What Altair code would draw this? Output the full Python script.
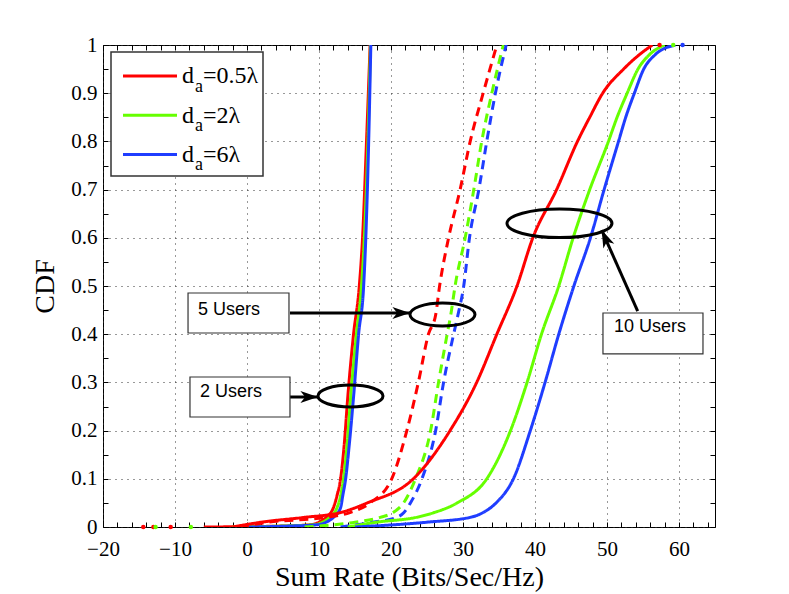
import altair as alt
import pandas as pd

# ---------------- data ----------------
series_names = ["d_a=0.5λ", "d_a=2λ", "d_a=6λ"]
series_colors = ["#ff0000", "#66ff00", "#1f3dff"]

# 2 users (solid)
y_2u = [0, 0.002, 0.005, 0.01, 0.02, 0.04, 0.065, 0.1, 0.17, 0.27, 0.4, 0.5, 0.6, 0.8, 1.0]
x_2u_red = [-6, 5, 9, 10, 11, 12, 12.5, 13, 13.5, 14, 14.8, 15.6, 16.05, 16.6, 17.1]
x_2u_green = [-2, 5, 9.5, 10.5, 11.5, 12.5, 13, 13.4, 13.9, 14.4, 15.2, 15.9, 16.3, 16.8, 17.15]
x_2u_blue = [0, 6, 10, 11, 12, 13, 13.3, 13.7, 14.2, 14.8, 15.5, 16.2, 16.5, 16.9, 17.2]

# 5 users (dashed)
y_5u = [0, 0.01, 0.02, 0.03, 0.05, 0.1, 0.2, 0.3, 0.4, 0.44, 0.5, 0.6, 0.7, 0.8, 0.9, 1.0]
x_5u_red = [-1, 3, 11, 14.3, 17.1, 20.1, 22.2, 23.8, 25.2, 26.2, 26.75, 28.0, 29.6, 31.0, 32.8, 34.7]
x_5u_green = [8, 15, 18.5, 20.3, 21.75, 23.4, 25.5, 26.6, 27.8, 28.3, 28.9, 30.3, 31.5, 32.6, 34.0, 35.6]
x_5u_blue = [13, 17.5, 20.8, 21.8, 22.7, 24.3, 26.2, 27.3, 28.7, 29.3, 30.1, 30.9, 32.2, 33.3, 34.5, 36.0]

# 10 users (solid)
y_10u = [0, 0.01, 0.02, 0.03, 0.05, 0.1, 0.2, 0.3, 0.4, 0.5, 0.6, 0.7, 0.8, 0.85, 0.9, 0.95, 0.98, 1.0]
x_10u_red = [-2, 2, 8, 13, 16.7, 23.1, 28.2, 31.9, 34.7, 37.5, 39.7, 43.0, 45.9, 47.6, 49.4, 52.3, 54.5, 56.3]
x_10u_green = [14, 18, 23.5, 26, 29.2, 33.3, 36.6, 38.9, 40.9, 43.3, 45.3, 47.6, 50.2, 51.4, 52.8, 54.3, 55.9, 58.0]
x_10u_blue = [15, 25, 31, 32.8, 34.6, 37.0, 39.35, 41.4, 43.3, 45.4, 47.7, 49.6, 51.6, 52.6, 53.8, 55.1, 56.7, 59.5]

# sparse tail samples near CDF = 0 / 1
tail_x = [-14.4, -13.0, -10.6, -12.7, -7.8, 57.3, 59.2, 60.5]
tail_y = [0.0, 0.0, 0.0, 0.0, 0.0, 1.0, 1.0, 1.0]
tail_series = ["d_a=0.5λ", "d_a=0.5λ", "d_a=0.5λ", "d_a=2λ", "d_a=2λ",
               "d_a=0.5λ", "d_a=2λ", "d_a=6λ"]

x_major = [-20, -10, 0, 10, 20, 30, 40, 50, 60]
y_major = [0, 0.1, 0.2, 0.3, 0.4, 0.5, 0.6, 0.7, 0.8, 0.9, 1.0]
x_minor = list(range(-20, 65, 2))
y_minor = [round(i * 0.05, 2) for i in range(21)]

# annotations
ann_labels = ["5 Users", "2 Users", "10 Users"]
ann_box_x = [-8.19, -7.92, 49.44]
ann_box_x2 = [5.83, 5.97, 63.33]
ann_box_y = [0.4855, 0.3112, 0.444]
ann_box_y2 = [0.4025, 0.2282, 0.359]
ann_text_x = [-6.8, -6.53, 50.97]
ann_text_y = [0.450, 0.2794, 0.4143]
ell_x = [27.15, 14.375, 43.40]
ell_y = [0.4409, 0.2718, 0.630]
ell_rx = [32.5, 32.5, 52.5]
ell_ry = [11.5, 11.0, 14.3]
arr_x = [5.97, 5.97, 54.26]
arr_y = [0.444, 0.2697, 0.448]
arr_x2 = [22.64, 9.86, 49.26]
arr_y2 = [0.444, 0.2697, 0.616]
arr_angle = [90, 90, 336]

# ---------------- build tables ----------------
rows = []
curves = [
    ("2u", "solid", y_2u, [x_2u_red, x_2u_green, x_2u_blue]),
    ("5u", "dashed", y_5u, [x_5u_red, x_5u_green, x_5u_blue]),
    ("10u", "solid", y_10u, [x_10u_red, x_10u_green, x_10u_blue]),
]
for gname, style, ys, xs_list in curves:
    for sname, xs in zip(series_names, xs_list):
        for i, (xv, yv) in enumerate(zip(xs, ys)):
            rows.append({"x": xv, "y": yv, "series": sname, "curve": gname + sname,
                         "style": style, "idx": i})
df = pd.DataFrame(rows)
tails = pd.DataFrame({"x": tail_x, "y": tail_y, "series": tail_series})

XDOM = [-20, 65]
YDOM = [0, 1]
serif = "Liberation Serif"
sans = "Liberation Sans"

xs_plain = alt.Scale(domain=XDOM, nice=False, zero=False)
ys_plain = alt.Scale(domain=YDOM, nice=False, zero=False)
color_scale = alt.Scale(domain=series_names, range=series_colors)

main_x_axis = alt.Axis(values=x_major, format="d", grid=True, gridDash=[1, 5], gridColor="#333",
                       gridWidth=1, domain=False, ticks=False, tickSize=0, labelPadding=11,
                       labelFont=serif, labelFontSize=21, labelColor="black", labelFlush=False,
                       labelOverlap=False,
                       title="Sum Rate (Bits/Sec/Hz)", titleFont=serif, titleFontSize=28,
                       titleFontWeight="normal", titleColor="black", titleY=58,
                       titleBaseline="alphabetic", orient="bottom")
main_y_axis = alt.Axis(values=y_major, format=".1~f", grid=True, gridDash=[1, 5], gridColor="#333",
                       gridWidth=1, domain=False, ticks=False, tickSize=0, labelPadding=6,
                       labelFont=serif, labelFontSize=21, labelColor="black", labelOverlap=False,
                       title="CDF", titleFont=serif, titleFontSize=28, titleFontWeight="normal",
                       titleColor="black", titleX=-50, titleY=241, titleAngle=270,
                       titleBaseline="alphabetic", titleAlign="center", orient="left")

lines = alt.Chart(df).mark_line(strokeWidth=3, clip=True, interpolate="monotone").encode(
    x=alt.X("x:Q", scale=xs_plain, axis=main_x_axis),
    y=alt.Y("y:Q", scale=ys_plain, axis=main_y_axis),
    color=alt.Color("series:N", scale=color_scale, legend=None),
    strokeDash=alt.StrokeDash("style:N", scale=alt.Scale(domain=["solid", "dashed"],
                                                          range=[[1, 0], [9, 6]]), legend=None),
    detail="curve:N",
    order="idx:Q",
)

tail_pts = alt.Chart(tails).mark_circle(size=20, opacity=1).encode(
    x=alt.X("x:Q", scale=xs_plain, axis=None),
    y=alt.Y("y:Q", scale=ys_plain, axis=None),
    color=alt.Color("series:N", scale=color_scale, legend=None),
)


def tick_layer(xorient, yorient):
    return alt.Chart(tails).mark_point(opacity=0).encode(
        x=alt.X("x:Q", scale=xs_plain,
                axis=alt.Axis(values=x_minor, orient=xorient, offset=-5, tickSize=5, ticks=True,
                              tickColor="black", tickWidth=1, labels=False, domain=False,
                              grid=False, title=None)),
        y=alt.Y("y:Q", scale=ys_plain,
                axis=alt.Axis(values=y_minor, orient=yorient, offset=-5, tickSize=5, ticks=True,
                              tickColor="black", tickWidth=1, labels=False, domain=False,
                              grid=False, title=None)),
    )


ticks_bl = tick_layer("bottom", "left")
ticks_tr = tick_layer("top", "right")

ann = pd.DataFrame({"label": ann_labels, "bx": ann_box_x, "bx2": ann_box_x2, "by": ann_box_y,
                    "by2": ann_box_y2, "tx": ann_text_x, "ty": ann_text_y,
                    "ax": arr_x, "ay": arr_y, "ax2": arr_x2, "ay2": arr_y2, "ang": arr_angle})

boxes = alt.Chart(ann).mark_rect(fill="white", stroke="#333", strokeWidth=1.2).encode(
    x=alt.X("bx:Q", scale=xs_plain, axis=None), x2="bx2:Q",
    y=alt.Y("by:Q", scale=ys_plain, axis=None), y2="by2:Q",
)
box_text = alt.Chart(ann).mark_text(font=sans, fontSize=18, align="left", baseline="middle",
                                    color="black").encode(
    x=alt.X("tx:Q", scale=xs_plain, axis=None),
    y=alt.Y("ty:Q", scale=ys_plain, axis=None),
    text="label:N",
)
shafts = alt.Chart(ann).mark_rule(strokeWidth=3, color="black").encode(
    x=alt.X("ax:Q", scale=xs_plain, axis=None), x2="ax2:Q",
    y=alt.Y("ay:Q", scale=ys_plain, axis=None), y2="ay2:Q",
)
heads = alt.Chart(ann).mark_point(shape="M 0 0 L 0.75 2.2 L 0 1.6 L -0.75 2.2 Z", size=256,
                                  filled=True, color="black", opacity=1).encode(
    x=alt.X("ax2:Q", scale=xs_plain, axis=None),
    y=alt.Y("ay2:Q", scale=ys_plain, axis=None),
    angle=alt.Angle("ang:Q", scale=None),
)

ellipses = []
for ex, ey, rx, ry in zip(ell_x, ell_y, ell_rx, ell_ry):
    r = ry / rx
    path = f"M -1 0 A 1 {r:.3f} 0 1 0 1 0 A 1 {r:.3f} 0 1 0 -1 0 Z"
    ellipses.append(
        alt.Chart(pd.DataFrame({"x": [ex], "y": [ey]})).mark_point(
            shape=path, size=(2 * rx) ** 2, filled=False, stroke="black", strokeWidth=3,
            opacity=1).encode(
            x=alt.X("x:Q", scale=xs_plain, axis=None),
            y=alt.Y("y:Q", scale=ys_plain, axis=None),
        )
    )

# manual legend (MATLAB style with subscripts)
one = pd.DataFrame({"a": [0]})
legend_layers = [
    alt.Chart(one).mark_rect(fill="white", stroke="#333", strokeWidth=1.5).encode(
        x=alt.value(8), x2=alt.value(160), y=alt.value(7), y2=alt.value(131))
]
leg_rest = ["=0.5λ", "=2λ", "=6λ"]
for i, (col, rest) in enumerate(zip(series_colors, leg_rest)):
    ly = 31 + 39.2 * i
    by = ly + 7.3
    legend_layers.append(alt.Chart(one).mark_rule(color=col, strokeWidth=3).encode(
        x=alt.value(20), x2=alt.value(74), y=alt.value(ly)))
    legend_layers.append(alt.Chart(one).mark_text(text="d", font=serif, fontSize=24, align="left",
                                                  baseline="alphabetic", color="black").encode(
        x=alt.value(79), y=alt.value(by)))
    legend_layers.append(alt.Chart(one).mark_text(text="a", font=serif, fontSize=18, align="left",
                                                  baseline="alphabetic", color="black").encode(
        x=alt.value(92), y=alt.value(by + 8.4)))
    legend_layers.append(alt.Chart(one).mark_text(text=rest, font=serif, fontSize=24, align="left",
                                                  baseline="alphabetic", color="black").encode(
        x=alt.value(100), y=alt.value(by)))

chart = alt.layer(
    ticks_bl, ticks_tr, lines, tail_pts, shafts, heads, *ellipses, boxes, box_text, *legend_layers
).resolve_axis(x="independent", y="independent").properties(
    width=612, height=482,
    autosize=alt.AutoSizeParams(type="none"),
    padding={"left": 95, "top": 37, "right": 50, "bottom": 65},
    background="white",
).configure_view(stroke="black", strokeWidth=1)

chart.save("out.html", embed_options={"renderer": "svg", "actions": False})
